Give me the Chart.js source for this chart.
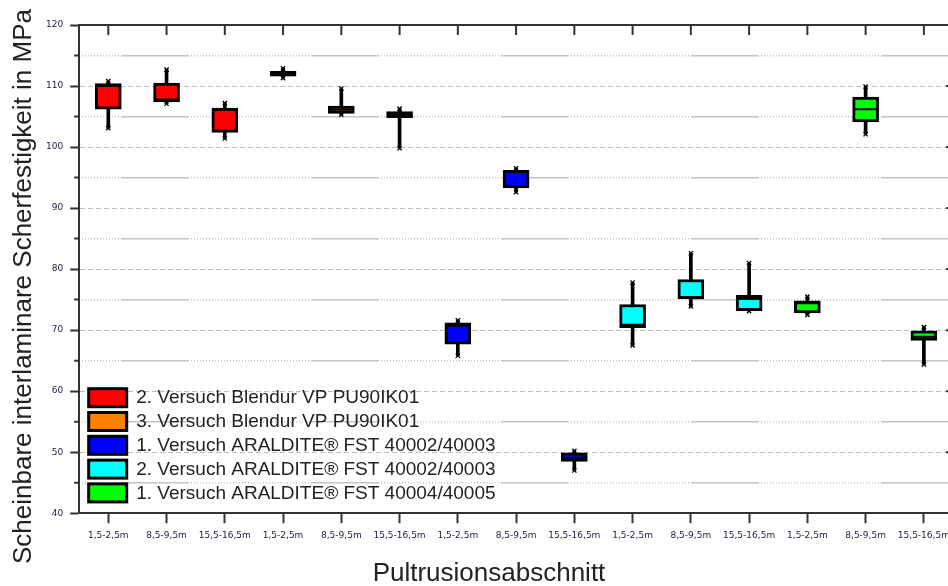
<!DOCTYPE html>
<html>
<head>
<meta charset="utf-8">
<script src="https://cdn.jsdelivr.net/npm/chart.js@4.4.1/dist/chart.umd.min.js"></script>
<style>
html, body { margin: 0; padding: 0; overflow: hidden; background: #fff; }
canvas { display: block; }
</style>
</head>
<body>
<canvas id="chart" width="966" height="586"></canvas>
<script>
// Pultrusionsabschnitte (je Versuch drei Abschnitte)
const categories = [
    '1,5-2,5m', '8,5-9,5m', '15,5-16,5m',
    '1,5-2,5m', '8,5-9,5m', '15,5-16,5m',
    '1,5-2,5m', '8,5-9,5m', '15,5-16,5m',
    '1,5-2,5m', '8,5-9,5m', '15,5-16,5m',
    '1,5-2,5m', '8,5-9,5m', '15,5-16,5m'
];

const seriesNames = [
    '2. Versuch Blendur VP PU90IK01',
    '3. Versuch Blendur VP PU90IK01',
    '1. Versuch ARALDITE® FST 40002/40003',
    '2. Versuch ARALDITE® FST 40002/40003',
    '1. Versuch ARALDITE® FST 40004/40005'
];
const seriesColors = ['#ff0000', '#ff8000', '#0000ff', '#00ffff', '#00ff00'];
// welche Serie zu welcher Box gehört
const boxSeries = [0, 0, 0, 1, 1, 1, 2, 2, 2, 3, 3, 3, 4, 4, 4];

// Boxplot-Werte in MPa
const whiskerMin = [103.1, 107.1, 101.4, 111.3, 105.3, 99.8, 65.8, 92.6, 47.0, 67.5, 73.9, 73.1, 72.5, 102.1, 64.4];
const boxLow     = [106.2, 107.4, 102.4, 111.6, 105.5, 104.8, 67.7, 93.3, 48.5, 70.4, 75.1, 73.2, 72.8, 104.1, 68.3];
const medians    = [110.0, 107.8, 106.1, 112.0, 106.1, 105.3, 70.7, 93.6, 49.1, 70.9, 75.4, 75.1, 74.4, 106.2, 68.9];
const boxHigh    = [110.4, 110.5, 106.4, 112.4, 106.7, 105.8, 71.2, 96.2, 49.9, 74.2, 78.3, 75.7, 74.8, 108.2, 69.9];
const whiskerMax = [110.8, 112.7, 107.2, 112.9, 109.6, 106.3, 71.6, 96.5, 50.2, 77.8, 82.6, 81.0, 75.5, 109.9, 70.5];

const yTitle = 'Scheinbare interlaminare Scherfestigkeit in MPa';
const xTitle = 'Pultrusionsabschnitt';

// gepunktet/durchgezogen wie im Original für die Zwischenlinien
const minorDash = [68, 2];
for (let i = 0; i < 40; i++) minorDash.push(1, 2);

const isMajor = c => c.tick && c.tick.value % 10 === 0;

// Rahmen oben/rechts, kleine Ticks, Legende und Achsentitel
const frame = {
    id: 'frame',
    afterDatasetsDraw(chart) {
        const { ctx, chartArea: a, scales: { x, y } } = chart;
        ctx.save();
        ctx.strokeStyle = '#333';
        ctx.lineWidth = 2;
        ctx.beginPath();
        ctx.moveTo(a.left, a.top);
        ctx.lineTo(a.right, a.top);
        ctx.lineTo(a.right, a.bottom);
        categories.forEach((c, i) => {
            const px = x.getPixelForTick(i);
            ctx.moveTo(px, a.top);
            ctx.lineTo(px, a.top + 10);
        });
        for (let v = 50; v < 120; v += 10) {
            const py = y.getPixelForValue(v);
            ctx.moveTo(a.right, py);
            ctx.lineTo(a.right - 7, py);
        }
        for (let v = 45; v < 120; v += 10) {
            const py = y.getPixelForValue(v);
            ctx.moveTo(a.left, py);
            ctx.lineTo(a.left - 5, py);
        }
        ctx.stroke();

        // Legende unten links im Diagramm
        const lx = a.left + 8;
        const ly = a.bottom - 126;
        ctx.font = '19px "Liberation Sans", Arial, sans-serif';
        ctx.textBaseline = 'middle';
        ctx.textAlign = 'left';
        seriesNames.forEach((name, i) => {
            const top = ly + i * 23.8;
            ctx.fillStyle = '#000';
            ctx.fillRect(lx, top, 41, 21);
            ctx.fillStyle = seriesColors[i];
            ctx.fillRect(lx + 3, top + 3, 35, 15);
            ctx.fillStyle = '#222';
            ctx.fillText(name, lx + 49, top + 11);
        });

        // Achsentitel
        ctx.font = '26px "Liberation Sans", Arial, sans-serif';
        ctx.fillStyle = '#222';
        ctx.textAlign = 'center';
        ctx.textBaseline = 'alphabetic';
        ctx.fillText(xTitle, 489, 581);
        ctx.translate(31, 286.5);
        ctx.rotate(-Math.PI / 2);
        ctx.fillText(yTitle, 0, 0);
        ctx.restore();
    }
};

const ctx = document.getElementById('chart').getContext('2d');
new Chart(ctx, {
    type: 'bar',
    data: {
        labels: categories,
        datasets: [
            {
                label: 'Whisker',
                data: categories.map((c, i) => [whiskerMin[i], whiskerMax[i]]),
                backgroundColor: '#000',
                barThickness: 3,
                grouped: false,
                order: 4
            },
            {
                label: 'Box',
                data: categories.map((c, i) => [boxLow[i], boxHigh[i]]),
                backgroundColor: boxSeries.map(s => seriesColors[s]),
                borderColor: '#000',
                borderWidth: 3,
                borderSkipped: false,
                barThickness: 26,
                grouped: false,
                order: 3
            },
            {
                type: 'line',
                label: 'Median',
                data: medians,
                showLine: false,
                pointStyle: 'line',
                pointRadius: 11,
                pointHoverRadius: 11,
                pointBorderWidth: 2,
                pointBorderColor: '#000',
                order: 2
            },
            {
                type: 'line',
                label: 'Min',
                data: whiskerMin,
                showLine: false,
                pointStyle: 'crossRot',
                pointRadius: 3,
                pointHoverRadius: 3,
                pointBorderWidth: 1.3,
                pointBorderColor: '#000',
                order: 1
            },
            {
                type: 'line',
                label: 'Max',
                data: whiskerMax,
                showLine: false,
                pointStyle: 'crossRot',
                pointRadius: 3,
                pointHoverRadius: 3,
                pointBorderWidth: 1.3,
                pointBorderColor: '#000',
                order: 1
            }
        ]
    },
    options: {
        responsive: false,
        animation: false,
        layout: { padding: { left: 39, top: 25, right: 0, bottom: 38 } },
        plugins: {
            legend: { display: false },
            tooltip: { enabled: false }
        },
        scales: {
            x: {
                offset: true,
                grid: {
                    offset: false,
                    drawOnChartArea: false,
                    tickLength: 10,
                    tickWidth: 2,
                    tickColor: '#333'
                },
                border: { color: '#333', width: 2 },
                ticks: {
                    autoSkip: false,
                    maxRotation: 0,
                    padding: 7,
                    color: '#1c1c3c',
                    font: { family: 'DejaVu Sans', size: 9 }
                }
            },
            y: {
                min: 40,
                max: 120,
                grid: {
                    color: c => isMajor(c) ? '#bdbdbd' : '#c4c4c4',
                    lineWidth: c => isMajor(c) ? 1 : 1.5,
                    tickLength: 9,
                    tickWidth: 2,
                    tickColor: c => isMajor(c) ? '#333' : 'rgba(0,0,0,0)'
                },
                border: {
                    color: '#333',
                    width: 2,
                    dash: c => isMajor(c) ? [5, 3] : minorDash,
                    dashOffset: c => isMajor(c) ? 0 : 149
                },
                ticks: {
                    stepSize: 5,
                    padding: 7,
                    color: '#1c1c3c',
                    font: { family: 'DejaVu Sans', size: 9 },
                    callback: v => v % 10 === 0 ? v : ''
                }
            }
        }
    },
    plugins: [frame]
});
</script>
</body>
</html>
